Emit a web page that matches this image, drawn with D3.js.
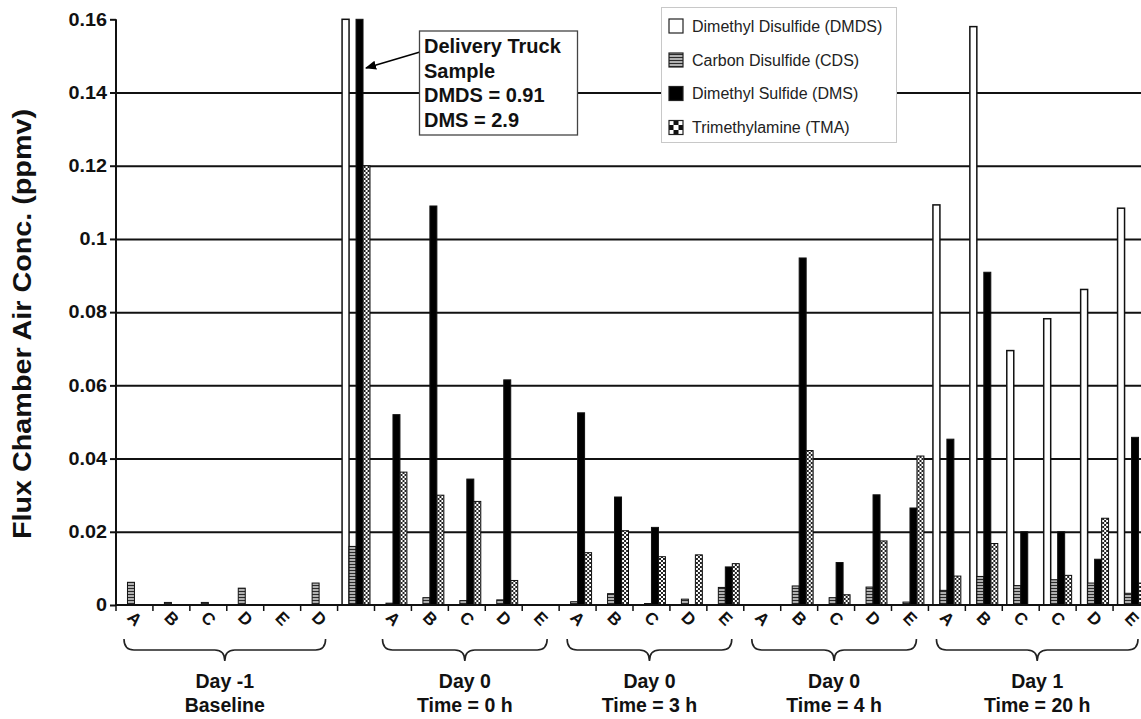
<!DOCTYPE html>
<html>
<head>
<meta charset="utf-8">
<script src="https://cdn.jsdelivr.net/npm/d3@7"></script>
<style>
    body { margin: 0; background: #fff; }
    svg { display: block; font-family: "Liberation Sans", Arial, sans-serif; }
</style>
</head>
<body>
<svg id="chart" width="1141" height="719"></svg>
<script>
// category labels along the x axis (index 6 = delivery truck sample, no label)
var categories = ["A", "B", "C", "D", "E", "D", "",
    "A", "B", "C", "D", "E",
    "A", "B", "C", "D", "E",
    "A", "B", "C", "D", "E",
    "A", "B", "C", "C", "D", "E"];

// concentrations (ppmv)
var dmds = [0, 0, 0, 0, 0, 0, 0.91,
    0, 0, 0, 0, 0,
    0, 0, 0, 0, 0,
    0, 0, 0, 0, 0,
    0.1093, 0.158, 0.0695, 0.0782, 0.0862, 0.1084];
var cds = [0.0062, 0.0007, 0.0007, 0.0046, 0, 0.006, 0.016,
    0.0005, 0.002, 0.0012, 0.0014, 0,
    0.0009, 0.0031, 0.0004, 0.0016, 0.0048,
    0, 0.0052, 0.002, 0.0049, 0.0008,
    0.004, 0.0078, 0.0053, 0.0069, 0.006, 0.0032];
var dms = [0, 0, 0, 0, 0, 0, 2.9,
    0.052, 0.109, 0.0344, 0.0615, 0,
    0.0525, 0.0295, 0.0212, 0, 0.0104,
    0, 0.0948, 0.0116, 0.0301, 0.0265,
    0.0453, 0.0909, 0.02, 0.02, 0.0125, 0.0458];
var tma = [0, 0, 0, 0, 0, 0, 0.12,
    0.0363, 0.030, 0.0283, 0.0067, 0,
    0.0143, 0.0203, 0.0132, 0.0137, 0.0113,
    0, 0.0422, 0.0028, 0.0175, 0.0407,
    0.0079, 0.0168, 0, 0.0081, 0.0237, 0.006];

var seriesKeys = ["DMDS", "CDS", "DMS", "TMA"];
var seriesNames = ["Dimethyl Disulfide (DMDS)", "Carbon Disulfide (CDS)",
    "Dimethyl Sulfide (DMS)", "Trimethylamine (TMA)"];

var yTicks = [0, 0.02, 0.04, 0.06, 0.08, 0.1, 0.12, 0.14, 0.16];
var yTickLabels = ["0", "0.02", "0.04", "0.06", "0.08", "0.1", "0.12", "0.14", "0.16"];

var groupTitles = ["Day -1", "Day 0", "Day 0", "Day 0", "Day 1"];
var groupSubtitles = ["Baseline", "Time = 0 h", "Time = 3 h", "Time = 4 h", "Time = 20 h"];
var groupFirst = [0, 7, 12, 17, 22];
var groupLast = [5, 11, 16, 21, 27];

var noteLines = ["Delivery Truck", "Sample", "DMDS = 0.91", "DMS = 2.9"];

var yTitle = "Flux Chamber Air Conc. (ppmv)";

// build rows for the bars
var data = categories.map(function (c, i) {
    return { i: i, label: c, DMDS: dmds[i], CDS: cds[i], DMS: dms[i], TMA: tma[i] };
});

var svg = d3.select("#chart");
var W = 1141;

var x = d3.scaleBand()
    .domain(d3.range(categories.length))
    .range([116, 1150])
    .padding(0);

var bw = x.bandwidth();

var x1 = d3.scaleBand()
    .domain(seriesKeys)
    .range([4.5, bw - 4.5])
    .padding(0);

var y = d3.scaleLinear()
    .domain([0, 0.16])
    .range([605, 19.3])
    .clamp(true);

// patterns
var defs = svg.append("defs");

var pStripe = defs.append("pattern")
    .attr("id", "stripe")
    .attr("patternUnits", "userSpaceOnUse")
    .attr("width", 4).attr("height", 3);
pStripe.append("rect").attr("width", 4).attr("height", 3).attr("fill", "#b0b0b0");
pStripe.append("rect").attr("width", 4).attr("height", 1).attr("fill", "#2a2a2a");

var pCheck = defs.append("pattern")
    .attr("id", "check")
    .attr("patternUnits", "userSpaceOnUse")
    .attr("width", 4).attr("height", 4);
pCheck.append("rect").attr("width", 4).attr("height", 4).attr("fill", "#fff");
pCheck.append("rect").attr("width", 2).attr("height", 2).attr("fill", "#222");
pCheck.append("rect").attr("x", 2).attr("y", 2).attr("width", 2).attr("height", 2).attr("fill", "#222");

var fills = { DMDS: "#fff", CDS: "url(#stripe)", DMS: "#000", TMA: "url(#check)" };

defs.append("marker")
    .attr("id", "arrow")
    .attr("viewBox", "0 0 10 10")
    .attr("refX", 9).attr("refY", 5)
    .attr("markerWidth", 7).attr("markerHeight", 7)
    .attr("orient", "auto")
    .append("path")
    .attr("d", "M0,1 L10,5 L0,9 Z")
    .attr("fill", "#000");

// gridlines
var grid = svg.append("g")
    .attr("transform", "translate(" + x.range()[0] + ",0)")
    .call(d3.axisRight(y).tickValues(yTicks.slice(1, -1)).tickSize(W - x.range()[0]).tickFormat(""));
grid.select(".domain").remove();
grid.selectAll("line").attr("stroke", "#111").attr("stroke-width", 2);

// bars
var barGroup = svg.append("g").attr("class", "bars");

barGroup.selectAll("g.cat")
    .data(data)
    .enter().append("g")
    .attr("class", "cat")
    .attr("transform", function (d) { return "translate(" + x(d.i) + ",0)"; })
    .selectAll("rect")
    .data(function (d) {
        return seriesKeys.map(function (k) { return { key: k, value: d[k] }; })
            .filter(function (s) { return s.value > 0; });
    })
    .enter().append("rect")
    .attr("x", function (s) { return x1(s.key); })
    .attr("width", x1.bandwidth())
    .attr("y", function (s) { return y(s.value); })
    .attr("height", function (s) { return y(0) - y(s.value); })
    .attr("fill", function (s) { return fills[s.key]; })
    .attr("stroke", "#111")
    .attr("stroke-width", function (s) { return s.key === "DMDS" ? 1.5 : 1; });

// y axis
var yAxis = svg.append("g")
    .attr("transform", "translate(" + x.range()[0] + ",0)")
    .call(d3.axisLeft(y).tickValues(yTicks).tickSize(6).tickPadding(3)
        .tickFormat(function (d, i) { return yTickLabels[i]; }));
yAxis.select(".domain").attr("stroke", "#111").attr("stroke-width", 2).attr("d", "M0," + y(0.16) + "V" + y(0));
yAxis.selectAll("line").attr("stroke", "#111").attr("stroke-width", 2);
yAxis.selectAll("text")
    .attr("fill", "#111")
    .style("font-size", "18px")
    .style("font-weight", "bold")
    .each(function () {
        var w = this.getComputedTextLength();
        d3.select(this).attr("textLength", w * 1.1).attr("lengthAdjust", "spacingAndGlyphs");
    });

// x axis baseline and category boundary ticks
svg.append("line")
    .attr("x1", x.range()[0]).attr("x2", W)
    .attr("y1", y(0)).attr("y2", y(0))
    .attr("stroke", "#111").attr("stroke-width", 2);

svg.append("g").selectAll("line")
    .data(d3.range(categories.length + 1))
    .enter().append("line")
    .attr("x1", function (i) { return x.range()[0] + i * bw; })
    .attr("x2", function (i) { return x.range()[0] + i * bw; })
    .attr("y1", y(0)).attr("y2", y(0) + 6)
    .attr("stroke", "#111").attr("stroke-width", 1.5);

// rotated category letters
svg.append("g").selectAll("text")
    .data(data.filter(function (d) { return d.label !== ""; }))
    .enter().append("text")
    .attr("x", function (d) { return x(d.i) + bw / 2; })
    .attr("y", 619)
    .attr("text-anchor", "middle")
    .attr("dominant-baseline", "central")
    .attr("transform", function (d) { return "rotate(45," + (x(d.i) + bw / 2) + ",619)"; })
    .style("font-size", "17px")
    .style("font-weight", "bold")
    .attr("fill", "#111")
    .text(function (d) { return d.label; });

// group braces and labels
var groups = groupFirst.map(function (f, i) {
    return {
        x1: x(f) + 8,
        x2: x(groupLast[i]) + bw - 12,
        title: groupTitles[i],
        sub: groupSubtitles[i]
    };
});

function bracePath(a, b) {
    var t = 639, m = 650, p = 661, r = 10, c = (a + b) / 2;
    return "M" + a + "," + t +
        "Q" + a + "," + m + " " + (a + r) + "," + m +
        "L" + (c - r) + "," + m +
        "Q" + c + "," + m + " " + c + "," + p +
        "Q" + c + "," + m + " " + (c + r) + "," + m +
        "L" + (b - r) + "," + m +
        "Q" + b + "," + m + " " + b + "," + t;
}

var gLab = svg.append("g").selectAll("g")
    .data(groups)
    .enter().append("g");

gLab.append("path")
    .attr("d", function (g) { return bracePath(g.x1, g.x2); })
    .attr("fill", "none")
    .attr("stroke", "#222")
    .attr("stroke-width", 1.6);

gLab.append("text")
    .attr("x", function (g) { return (g.x1 + g.x2) / 2; })
    .attr("y", 688)
    .attr("text-anchor", "middle")
    .style("font-size", "19.5px")
    .style("font-weight", "bold")
    .attr("fill", "#111")
    .text(function (g) { return g.title; });

gLab.append("text")
    .attr("x", function (g) { return (g.x1 + g.x2) / 2; })
    .attr("y", 712)
    .attr("text-anchor", "middle")
    .style("font-size", "19.5px")
    .style("font-weight", "bold")
    .attr("fill", "#111")
    .text(function (g) { return g.sub; });

// y axis title
svg.append("text")
    .attr("transform", "translate(31,324) rotate(-90)")
    .attr("text-anchor", "middle")
    .attr("textLength", 430)
    .attr("lengthAdjust", "spacingAndGlyphs")
    .style("font-size", "25px")
    .style("font-weight", "bold")
    .attr("fill", "#111")
    .text(yTitle);

// annotation box for the delivery truck sample
var tip = [x(6) + x1("DMS") + x1.bandwidth() + 3, y(0.1467)];
svg.append("line")
    .attr("x1", 420).attr("y1", 52)
    .attr("x2", tip[0]).attr("y2", tip[1])
    .attr("stroke", "#000").attr("stroke-width", 1.6)
    .attr("marker-end", "url(#arrow)");

svg.append("rect")
    .attr("x", 419.5).attr("y", 31)
    .attr("width", 158).attr("height", 104)
    .attr("fill", "#fff")
    .attr("stroke", "#444").attr("stroke-width", 1.3);

svg.append("g").selectAll("text")
    .data(noteLines)
    .enter().append("text")
    .attr("x", 424)
    .attr("y", function (d, i) { return 53 + i * 24.7; })
    .style("font-size", "20px")
    .style("font-weight", "bold")
    .attr("fill", "#111")
    .text(function (d) { return d; });

// legend
var legend = svg.append("g");
legend.append("rect")
    .attr("x", 661.5).attr("y", 7.5)
    .attr("width", 235).attr("height", 135)
    .attr("fill", "#fff")
    .attr("stroke", "#c8c8c8").attr("stroke-width", 1);

var rowY = [26, 60, 93.5, 127.5];

var lp = defs.append("pattern")
    .attr("id", "checkBig")
    .attr("patternUnits", "userSpaceOnUse")
    .attr("x", 668.5).attr("y", rowY[3] - 7.5)
    .attr("width", 10).attr("height", 10);
lp.append("rect").attr("width", 10).attr("height", 10).attr("fill", "#111");
lp.append("rect").attr("width", 5).attr("height", 5).attr("fill", "#fff");
lp.append("rect").attr("x", 5).attr("y", 5).attr("width", 5).attr("height", 5).attr("fill", "#fff");

var lfills = { DMDS: "#fff", CDS: "url(#stripe)", DMS: "#000", TMA: "url(#checkBig)" };

var item = legend.selectAll("g.item")
    .data(seriesKeys)
    .enter().append("g")
    .attr("class", "item");

item.append("rect")
    .attr("x", 669)
    .attr("y", function (k, i) { return rowY[i] - 7; })
    .attr("width", 14).attr("height", 14)
    .attr("fill", function (k) { return lfills[k]; })
    .attr("stroke", "#222").attr("stroke-width", 1.2);

item.append("text")
    .attr("x", 692)
    .attr("y", function (k, i) { return rowY[i] + 5.5; })
    .style("font-size", "16px")
    .attr("fill", "#222")
    .text(function (k, i) { return seriesNames[i]; });
</script>
</body>
</html>
